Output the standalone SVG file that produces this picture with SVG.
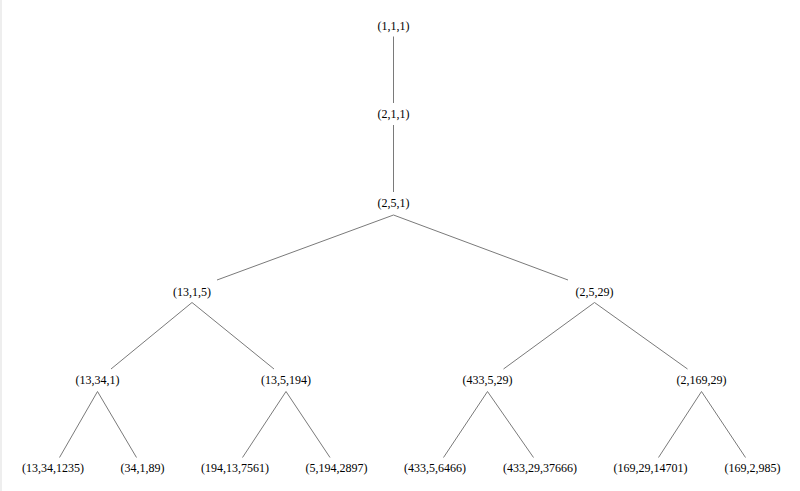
<svg xmlns="http://www.w3.org/2000/svg" width="800" height="491" viewBox="0 0 800 491">
<style>
.bg{fill:#ffffff}
.edge{stroke:#7a7a7a;stroke-width:1;fill:none}
text{font-family:"Liberation Serif","Times New Roman",serif;font-size:12px;fill:#000;text-anchor:middle}
</style>
<rect class="bg" x="0" y="0" width="800" height="491"/>
<rect x="0" y="0" width="2" height="491" fill="#eeeeee"/>
<g id="connectors">
<line class="edge" x1="393.5" y1="36.5" x2="393.5" y2="103"/>
<line class="edge" x1="393.5" y1="125" x2="393.5" y2="192"/>
<line class="edge" x1="393.5" y1="215" x2="217" y2="280"/>
<line class="edge" x1="393.5" y1="215" x2="568" y2="280"/>
<line class="edge" x1="192" y1="302.5" x2="111" y2="369"/>
<line class="edge" x1="192" y1="302.5" x2="274" y2="369"/>
<line class="edge" x1="594.5" y1="302.5" x2="503.5" y2="369"/>
<line class="edge" x1="594.5" y1="302.5" x2="687.5" y2="369"/>
<line class="edge" x1="97.5" y1="391.5" x2="59.5" y2="457.5"/>
<line class="edge" x1="97.5" y1="391.5" x2="136.5" y2="457.5"/>
<line class="edge" x1="286" y1="391.5" x2="242.5" y2="457.5"/>
<line class="edge" x1="286" y1="391.5" x2="330" y2="457.5"/>
<line class="edge" x1="487.5" y1="391.5" x2="443.5" y2="457.5"/>
<line class="edge" x1="487.5" y1="391.5" x2="533.5" y2="457.5"/>
<line class="edge" x1="701.5" y1="391.5" x2="658.5" y2="457.5"/>
<line class="edge" x1="701.5" y1="391.5" x2="745.5" y2="457.5"/>
</g>
<g id="n111"><text x="393.5" y="29.5">(1,1,1)</text></g>
<g id="n211"><text x="393.5" y="118">(2,1,1)</text></g>
<g id="n251"><text x="393.5" y="206.5">(2,5,1)</text></g>
<g id="n1315"><text x="192" y="295.5">(13,1,5)</text></g>
<g id="n2529"><text x="594.5" y="295.5">(2,5,29)</text></g>
<g id="n13341"><text x="97.5" y="384">(13,34,1)</text></g>
<g id="n135194"><text x="286" y="384">(13,5,194)</text></g>
<g id="n433529"><text x="487.5" y="384">(433,5,29)</text></g>
<g id="n216929"><text x="701.5" y="384">(2,169,29)</text></g>
<g id="n13341235"><text x="53" y="472">(13,34,1235)</text></g>
<g id="n34189"><text x="142.5" y="472">(34,1,89)</text></g>
<g id="n194137561"><text x="235" y="472">(194,13,7561)</text></g>
<g id="n51942897"><text x="336.5" y="472">(5,194,2897)</text></g>
<g id="n43356466"><text x="435" y="472">(433,5,6466)</text></g>
<g id="n4332937666"><text x="540" y="472">(433,29,37666)</text></g>
<g id="n1692914701"><text x="650.5" y="472">(169,29,14701)</text></g>
<g id="n1692985"><text x="752.5" y="472">(169,2,985)</text></g>
</svg>
